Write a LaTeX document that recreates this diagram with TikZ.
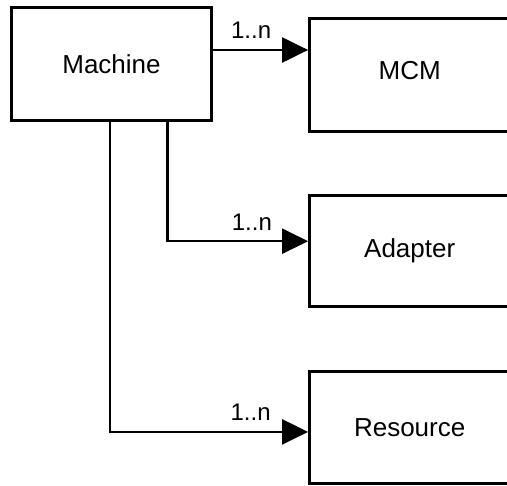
\documentclass[tikz,border=0pt]{standalone}
\usepackage{fontspec}
\setmainfont{Liberation Sans}
\usetikzlibrary{positioning,arrows.meta}

\begin{document}
\begin{tikzpicture}[
  x=1pt, y=-1pt,
  box/.style={draw, line width=3.2pt, minimum width=200pt, minimum height=113pt,
              inner sep=0pt, font=\fontsize{26}{30}\selectfont},
  assoc/.style={-{Triangle[length=26pt, width=25pt]}, line width=2.3pt},
  mult/.style={inner sep=0pt, font=\fontsize{24}{28}\selectfont}
]
\useasboundingbox (0,0) rectangle (507,486);

% Boxes
\node[box] (machine) at (111.5,64) {Machine};
\node[box, below right=11pt and 95pt of machine.north east, text depth=10pt] (mcm) {MCM};
\node[box, below=61pt of mcm, minimum height=111pt] (adapter) {Adapter};
\node[box, below=62pt of adapter, minimum height=112pt] (resource) {Resource};

% Associations
\draw[assoc] ([yshift=14pt]machine.east) -- ([yshift=14pt]machine.east -| mcm.west)
  node[mult, pos=0.4, above=10pt] {1..n};
\draw[assoc] ([xshift=56pt]machine.south) |- ([yshift=10pt]adapter.west)
  node[mult, pos=0.8, above=10pt] {1..n};
\draw[assoc] ([xshift=-1.5pt]machine.south) |- ([yshift=-4pt]resource.west)
  node[mult, pos=0.855, above=10pt] {1..n};

\end{tikzpicture}
\end{document}
